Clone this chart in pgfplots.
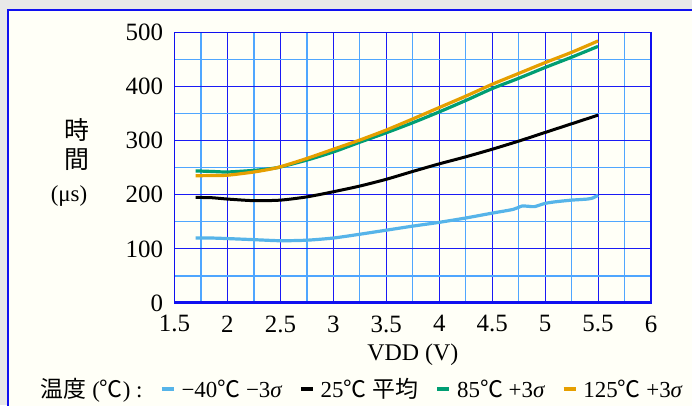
\documentclass[border=0pt]{standalone}
\usepackage{pgfplots}
\pgfplotsset{compat=1.18}
\usepackage{fontspec}
\setmainfont{Liberation Serif}
\newfontfamily\cjk{Noto Sans CJK JP}
\definecolor{bgray}{HTML}{E8E8E8}
\definecolor{panel}{HTML}{FFFFF7}
\definecolor{cLB}{HTML}{56B4E9}
\definecolor{cGR}{HTML}{009E73}
\definecolor{cOR}{HTML}{E69F00}
\definecolor{gmaj}{HTML}{1A1AF5}
\definecolor{gmin}{HTML}{4FA6FF}
\definecolor{frame}{HTML}{1010F0}
\begin{document}
\begin{tikzpicture}[x=1bp,y=1bp]
\clip (0,0) rectangle (692,405);
\fill[bgray] (0,0) rectangle (692,405);
\filldraw[fill=panel, draw=frame, line width=2bp] (8,-20) rectangle (720,395);
\begin{axis}[
  at={(174.5bp,102bp)}, anchor=south west,
  scale only axis, width=476.5bp, height=270.7bp,
  xmin=1.5, xmax=6, ymin=0, ymax=500,
  xtick={1.5,2,2.5,3,3.5,4,4.5,5,5.5,6},
  xticklabels={1.5,2,2.5,3,3.5,4,4.5,5,5.5,6},
  minor xtick={1.75,2.25,2.75,3.25,3.75,4.25,4.75,5.25,5.75},
  ytick={0,100,200,300,400,500},
  yticklabels={0,100,200,300,400,500},
  minor ytick={50,150,250,350,450},
  grid=both,
  major grid style={gmaj, line width=0.9bp},
  minor grid style={gmin, line width=1.3bp},
  axis line style={frame, line width=1.3bp},
  major tick length=0pt, minor tick length=0pt,
  tick label style={font=\fontsize{25}{28}\selectfont},
  xticklabel style={yshift=-9bp},
  yticklabel style={xshift=-8bp},
  xlabel={VDD (V)},
  xlabel style={font=\fontsize{24}{28}\selectfont, at={(rel axis cs:0.5,0)}, anchor=center, yshift=-52bp},
  legend columns=-1,
  legend style={at={(rel axis cs:-0.300,-0.318)}, anchor=west, draw=none, fill=none,
    font=\fontsize{23}{27}\selectfont,
    nodes={inner sep=1bp},
    /tikz/every even column/.append style={column sep=16.5bp},
    /tikz/every odd column/.append style={column sep=5bp}},
  legend image code/.code={\draw[#1, line width=3.5bp] (0bp,0bp) -- (12bp,0bp);},
]
\addlegendimage{empty legend}
\addlegendentry{{\cjk 温度} ({\cjk ℃}) :}
\addplot[cLB, line width=3.2bp, smooth, tension=0.4] coordinates {
(1.70,120)(1.85,120)(2.0,119)(2.25,117)(2.5,115)(2.75,116)(3.0,120)(3.25,127)(3.5,134.5)(3.75,142)(4.0,149)(4.25,157)(4.5,166)(4.7,173)(4.78,179)(4.85,178.5)(4.9,178)(5.0,184)(5.1,187)(5.25,190)(5.4,192)(5.45,194)(5.5,199)};
\addlegendentry{−40{\cjk ℃} −3{\itshape σ}}
\addplot[black, line width=3bp, smooth, tension=0.4] coordinates {
(1.7,195)(1.85,194.5)(2.0,192)(2.25,189)(2.5,190)(2.75,196)(3.0,205.5)(3.25,216)(3.5,228.5)(3.75,243)(4.0,257)(4.25,270)(4.5,284)(4.75,299)(5.0,315)(5.25,331)(5.5,347)};
\addlegendentry{25{\cjk ℃} {\cjk 平均}}
\addplot[cGR, line width=3.2bp, smooth, tension=0.4] coordinates {
(1.7,244)(1.85,243)(2.0,242)(2.25,245)(2.47,250)(2.75,264)(3.0,279)(3.25,297)(3.5,314.5)(3.75,333)(4.0,353)(4.25,374)(4.5,396)(4.75,415)(5.0,435)(5.25,454)(5.5,474)};
\addlegendentry{85{\cjk ℃} +3{\itshape σ}}
\addplot[cOR, line width=3.2bp, smooth, tension=0.4] coordinates {
(1.7,235)(1.85,235.5)(2.0,236)(2.25,242)(2.47,250)(2.75,267)(3.0,284)(3.25,301)(3.5,319.5)(3.75,340)(4.0,361)(4.25,382)(4.5,404)(4.75,424)(5.0,444)(5.25,463)(5.5,484)};
\addlegendentry{125{\cjk ℃} +3{\itshape σ}}
\draw[frame, line width=3.2bp] (rel axis cs:0,0) -- (rel axis cs:1,0);
\end{axis}
\node[font=\fontsize{25}{28}\selectfont\cjk] at (77,275) {時};
\node[font=\fontsize{25}{28}\selectfont\cjk] at (77,245) {間};
\node[font=\fontsize{23}{27}\selectfont] at (69,209) {(μs)};
\end{tikzpicture}
\end{document}
